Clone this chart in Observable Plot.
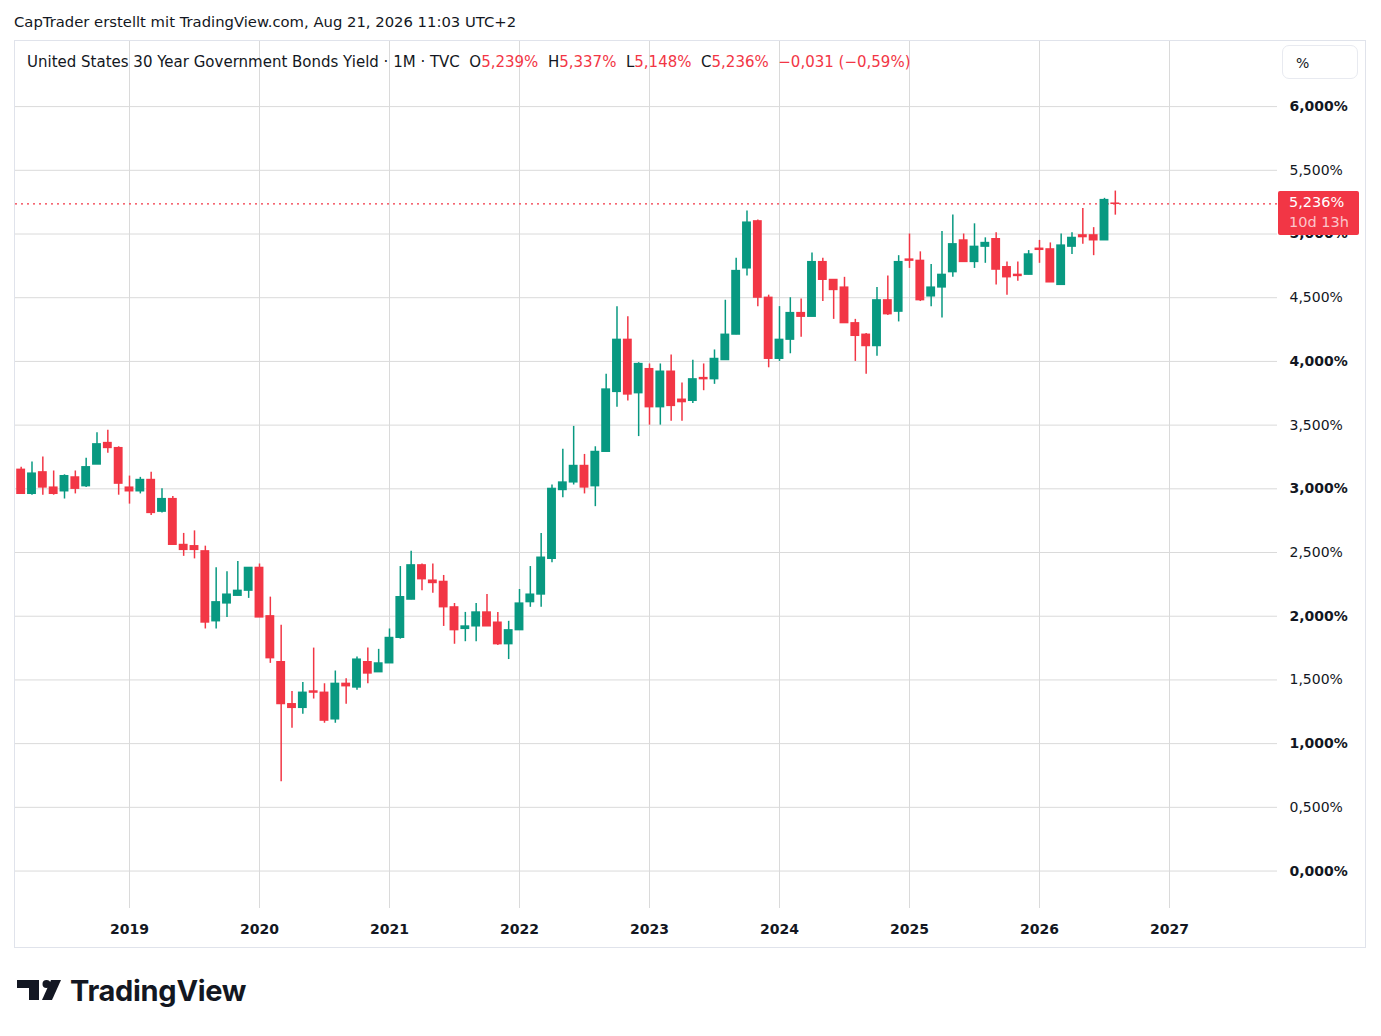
<!DOCTYPE html>
<html><head><meta charset="utf-8">
<script src="https://cdn.jsdelivr.net/npm/d3@7"></script>
<script src="https://cdn.jsdelivr.net/npm/@observablehq/plot@0.6"></script>
<style>
body{margin:0;background:#fff;font-family:"DejaVu Sans",sans-serif;color:#131722;width:1381px;height:1036px;position:relative;overflow:hidden}
#title{position:absolute;left:14px;top:12px;font-size:14.8px;line-height:20px;white-space:nowrap}
#frame{position:absolute;left:14px;top:40px;width:1350px;height:906px;border:1px solid #e0e3eb}
#chart{position:absolute;left:0;top:0}
#legend{position:absolute;left:12px;top:11px;font-size:15px;line-height:20px;white-space:pre}
#legend .r{color:#F23645}
#pct{position:absolute;left:1267px;top:4px;width:76px;height:34px;border:1px solid #e8eaf0;border-radius:7px;box-sizing:border-box;font-size:14px;line-height:34px;padding-left:13px}
#price{position:absolute;left:1263px;width:81px;height:44px;background:#F23645;border-radius:2px;color:#fff;font-size:14.5px;line-height:20px;box-sizing:border-box;padding:1px 0 0 11px}
#price .t{color:rgba(255,255,255,0.72)}
#logo{position:absolute;left:17px;top:977px;height:30px}
#logo svg{position:absolute;left:0;top:3px}
#logo span{position:absolute;left:53px;top:-4px;font-family:Inter,sans-serif;font-weight:700;font-size:29px;letter-spacing:-0.3px;white-space:nowrap;color:#131722}
</style></head>
<body>
<div id="title">CapTrader erstellt mit TradingView.com, Aug 21, 2026 11:03 UTC+2</div>
<div id="frame"><div id="chart"></div><div id="legend"></div><div id="pct">%</div><div id="price"></div></div>
<div id="logo"><svg width="46" height="24" viewBox="0 0 46 24"><path d="M0 0H22V20H12V8H0Z" fill="#131722"/><circle cx="29.5" cy="4" r="4" fill="#131722"/><path d="M34 0H44L35 20H25Z" fill="#131722"/></svg><span>TradingView</span></div>
<script>
// ---- data ----
const symbolTitle = "United States 30 Year Government Bonds Yield · 1M · TVC";
const countdown = "10d 13h";
const months = [
 "2018-03","2018-04","2018-05","2018-06","2018-07","2018-08","2018-09","2018-10","2018-11","2018-12",
 "2019-01","2019-02","2019-03","2019-04","2019-05","2019-06","2019-07","2019-08","2019-09","2019-10","2019-11","2019-12",
 "2020-01","2020-02","2020-03","2020-04","2020-05","2020-06","2020-07","2020-08","2020-09","2020-10","2020-11","2020-12",
 "2021-01","2021-02","2021-03","2021-04","2021-05","2021-06","2021-07","2021-08","2021-09","2021-10","2021-11","2021-12",
 "2022-01","2022-02","2022-03","2022-04","2022-05","2022-06","2022-07","2022-08","2022-09","2022-10","2022-11","2022-12",
 "2023-01","2023-02","2023-03","2023-04","2023-05","2023-06","2023-07","2023-08","2023-09","2023-10","2023-11","2023-12",
 "2024-01","2024-02","2024-03","2024-04","2024-05","2024-06","2024-07","2024-08","2024-09","2024-10","2024-11","2024-12",
 "2025-01","2025-02","2025-03","2025-04","2025-05","2025-06","2025-07","2025-08","2025-09","2025-10","2025-11","2025-12",
 "2026-01","2026-02","2026-03","2026-04","2026-05","2026-06","2026-07","2026-08"
];
const open = [
 3.15,2.96,3.13,3.01,2.98,3.09,3.02,3.19,3.36,3.32,
 3.01,2.98,3.07,2.82,2.92,2.56,2.55,2.51,1.96,2.10,2.16,2.20,
 2.38,2.00,1.64,1.31,1.28,1.41,1.40,1.19,1.47,1.44,1.64,1.56,
 1.63,1.83,2.13,2.40,2.28,2.27,2.07,1.90,1.92,2.03,1.95,1.78,
 1.89,2.11,2.17,2.45,2.99,3.05,3.18,3.02,3.29,3.76,4.17,3.75,
 3.94,3.64,3.92,3.70,3.69,3.87,3.86,4.01,4.21,4.73,5.10,4.50,
 4.02,4.17,4.38,4.35,4.78,4.64,4.58,4.30,4.21,4.12,4.48,4.39,
 4.80,4.79,4.51,4.58,4.70,4.95,4.78,4.90,4.96,4.74,4.68,4.68,
 4.885,4.88,4.60,4.90,4.99,4.99,4.95,5.239
];
const high = [
 3.17,3.21,3.25,3.14,3.11,3.14,3.24,3.44,3.46,3.33,
 3.10,3.09,3.13,3.00,2.94,2.65,2.67,2.55,2.38,2.35,2.43,2.38,
 2.41,2.15,1.93,1.41,1.48,1.75,1.47,1.57,1.51,1.68,1.75,1.74,
 1.90,2.39,2.51,2.41,2.41,2.32,2.10,2.03,2.10,2.17,2.03,1.96,
 2.21,2.39,2.65,3.03,3.31,3.49,3.27,3.33,3.90,4.43,4.35,3.99,
 3.98,3.98,4.05,3.83,4.01,3.98,4.09,4.48,4.81,5.18,5.11,4.52,
 4.43,4.50,4.49,4.85,4.81,4.64,4.66,4.33,4.22,4.58,4.67,4.83,
 5.00,4.86,4.76,5.02,5.15,5.00,5.08,4.97,5.01,4.78,4.78,4.87,
 4.95,4.93,5.00,5.01,5.20,5.05,5.28,5.337
];
const low = [
 2.96,2.95,2.95,2.95,2.92,2.96,3.01,3.19,3.28,2.95,
 2.88,2.96,2.79,2.81,2.56,2.47,2.45,1.90,1.90,1.99,2.16,2.14,
 1.99,1.63,0.70,1.12,1.23,1.35,1.16,1.16,1.31,1.42,1.47,1.56,
 1.63,1.82,2.13,2.20,2.18,1.92,1.78,1.80,1.80,1.92,1.77,1.66,
 1.89,2.07,2.07,2.42,2.93,3.03,2.96,2.86,3.29,3.64,3.69,3.41,
 3.50,3.50,3.53,3.53,3.67,3.77,3.82,4.01,4.21,4.67,4.43,3.95,
 4.00,4.06,4.19,4.35,4.47,4.33,4.30,4.00,3.90,4.04,4.36,4.31,
 4.73,4.47,4.43,4.34,4.66,4.78,4.73,4.77,4.60,4.52,4.63,4.68,
 4.77,4.62,4.60,4.84,4.92,4.83,4.95,5.148
];
const close = [
 2.96,3.12,3.01,2.96,3.10,3.00,3.17,3.35,3.32,3.04,
 2.98,3.07,2.81,2.92,2.56,2.52,2.52,1.95,2.11,2.17,2.20,2.38,
 1.99,1.67,1.31,1.28,1.40,1.40,1.18,1.47,1.45,1.66,1.55,1.63,
 1.83,2.15,2.40,2.29,2.26,2.07,1.89,1.92,2.03,1.92,1.78,1.89,
 2.10,2.17,2.46,3.00,3.05,3.18,3.01,3.29,3.78,4.17,3.74,3.98,
 3.64,3.92,3.65,3.68,3.86,3.86,4.02,4.21,4.71,5.09,4.50,4.02,
 4.17,4.38,4.35,4.78,4.64,4.56,4.30,4.20,4.12,4.48,4.37,4.78,
 4.79,4.48,4.58,4.68,4.92,4.78,4.90,4.93,4.72,4.66,4.67,4.84,
 4.875,4.62,4.91,4.97,4.975,4.95,5.267,5.236
];
const yTicks = [0,0.5,1,1.5,2,2.5,3,3.5,4,4.5,5,5.5,6];
const yearLabels = ["2019","2020","2021","2022","2023","2024","2025","2026","2027"];

// ---- build ----
const RED = "#F23645", GREEN = "#089981", GRID = "#dadada";
const monthIndex = m => { const [y, mo] = m.split("-").map(Number); return (y - 2019) * 12 + (mo - 1); };
const data = months.map((m, k) => ({i: monthIndex(m), open: open[k], high: high[k], low: low[k], close: close[k]}));
const col = d => d.close < d.open ? RED : GREEN;
const yearIdx = yearLabels.map(s => monthIndex(s + "-01"));
const yearLabelOf = new Map(yearIdx.map((v, k) => [v, yearLabels[k]]));
const fmt3 = v => v.toFixed(3).replace(".", ",");
const yFmt = v => fmt3(v) + "%";
const last = data[data.length - 1], prev = data[data.length - 2];
const lastClose = last.close;

const chart = Plot.plot({
  width: 1350, height: 906,
  marginLeft: 0, marginRight: 88, marginTop: 0, marginBottom: 39,
  style: {fontFamily: "DejaVu Sans", fontSize: "14px", color: "#131722", background: "transparent", overflow: "visible"},
  x: {type: "linear", domain: [-10.523, 105.97]},
  y: {domain: [-0.294, 6.511]},
  marks: [
    Plot.gridY(yTicks, {stroke: GRID, strokeOpacity: 1}),
    Plot.gridX(yearIdx, {stroke: GRID, strokeOpacity: 1}),
    Plot.ruleY([lastClose], {stroke: RED, strokeDasharray: "2,4", strokeWidth: 1.2}),
    Plot.ruleX(data, {x: "i", y1: "low", y2: "high", stroke: col, strokeWidth: 1.5}),
    Plot.rect(data, {x1: d => d.i - 0.41, x2: d => d.i + 0.41, y1: "open", y2: "close", fill: col, insetTop: -0.6, insetBottom: -0.6}),
    Plot.axisY(yTicks.filter(v => Number.isInteger(v)), {anchor: "right", tickSize: 0, tickPadding: 12, fontWeight: "bold", tickFormat: yFmt, label: null}),
    Plot.axisY(yTicks.filter(v => !Number.isInteger(v)), {anchor: "right", tickSize: 0, tickPadding: 12, tickFormat: yFmt, label: null}),
    Plot.axisX(yearIdx, {anchor: "bottom", tickSize: 0, tickPadding: 16, fontWeight: "bold", tickFormat: d => yearLabelOf.get(d), label: null})
  ]
});
document.getElementById("chart").append(chart);

// legend
const chg = last.close - prev.close, chgPct = chg / prev.close * 100;
const sgn = v => (v < 0 ? "\u2212" : "+") + Math.abs(v).toFixed(3).replace(".", ",");
const sgnP = v => (v < 0 ? "\u2212" : "+") + Math.abs(v).toFixed(2).replace(".", ",");
document.getElementById("legend").innerHTML =
  symbolTitle + "  O<span class='r'>" + fmt3(last.open) + "%</span>  H<span class='r'>" + fmt3(last.high) +
  "%</span>  L<span class='r'>" + fmt3(last.low) + "%</span>  C<span class='r'>" + fmt3(last.close) +
  "%</span>  <span class='r'>" + sgn(chg) + " (" + sgnP(chgPct) + "%)</span>";

// price label positioned via y scale
const py = chart.scale("y").apply(lastClose);
const price = document.getElementById("price");
price.style.top = (py - 12) + "px";
price.innerHTML = fmt3(lastClose) + "%<br><span class='t'>" + countdown + "</span>";
</script>
</body></html>
